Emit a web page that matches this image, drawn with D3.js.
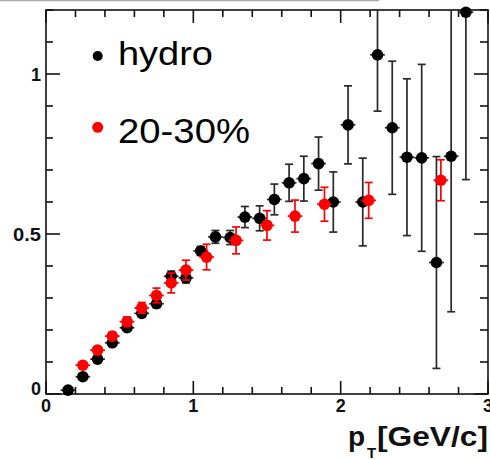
<!DOCTYPE html>
<html><head><meta charset="utf-8">
<script src="https://cdn.jsdelivr.net/npm/d3@7"></script>
<style>html,body{margin:0;padding:0;background:#fff;}svg{display:block;}</style>
</head><body>
<svg id="c" width="490" height="460"></svg>
<script>
// ---- data ----
const ptHydro = [0.15,0.25,0.35,0.45,0.55,0.65,0.75,0.85,0.95,1.05,1.15,1.25,1.35,1.45,1.55,1.65,1.75,1.85,1.95,2.05,2.15,2.25,2.35,2.45,2.55,2.65,2.75,2.85];
const vHydro  = [0.012,0.054,0.109,0.160,0.207,0.252,0.282,0.368,0.363,0.447,0.491,0.489,0.553,0.549,0.608,0.660,0.673,0.720,0.600,0.841,0.600,1.060,0.832,0.740,0.738,0.411,0.743,1.193];
const eHydro  = [0.005,0.005,0.007,0.008,0.010,0.010,0.012,0.016,0.016,0.014,0.020,0.022,0.033,0.039,0.048,0.058,0.070,0.083,0.094,0.122,0.137,0.176,0.208,0.245,0.292,0.331,0.486,0.523];
const ptCent  = [0.25,0.35,0.45,0.55,0.65,0.75,0.85,0.95,1.09,1.29,1.50,1.69,1.89,2.19,2.68];
const vCent   = [0.090,0.137,0.181,0.226,0.269,0.308,0.347,0.387,0.428,0.480,0.527,0.556,0.593,0.605,0.668];
const eCent   = [0.008,0.010,0.012,0.015,0.017,0.023,0.031,0.031,0.040,0.042,0.046,0.050,0.053,0.056,0.064];
const xErr = 0.05;
const seriesNames = ["hydro","20-30%"];
const xTickLabels = ["0","1","2","3"];
const yTickLabels = ["0","0.5","1"];
const xMajor = [0,1,2,3], yMajor = [0,0.5,1];

// ---- layout ----
const L=46, R=488, T=10, B=394;
const svg = d3.select("#c");
const x = d3.scaleLinear().domain([0,3]).range([L,R]);
const y = d3.scaleLinear().domain([0,1.2]).range([B,T]);
const font = "'Liberation Sans', Arial, Helvetica, sans-serif";

// top gray line artifact
svg.append("line").attr("x1",0).attr("x2",379).attr("y1",0.5).attr("y2",0.5).attr("stroke","#aaa").attr("stroke-width",1.5);

svg.append("defs").append("clipPath").attr("id","plot").append("rect")
  .attr("x",L).attr("y",T).attr("width",R-L).attr("height",B-T);

// frame
svg.append("rect").attr("x",L).attr("y",T).attr("width",R-L).attr("height",B-T)
  .attr("fill","none").attr("stroke","#111").attr("stroke-width",1.6);

// ticks
const xMinor = d3.range(0,3.0001,0.2).map(v=>+v.toFixed(2)).filter(v=>!xMajor.some(m=>Math.abs(m-v)<1e-6));
const yMinor = d3.range(0,1.2001,0.1).map(v=>+v.toFixed(2)).filter(v=>!yMajor.some(m=>Math.abs(m-v)<1e-6));
const tk = svg.append("g").attr("stroke","#111").attr("stroke-width",1.6);
xMajor.forEach(v=>{ tk.append("line").attr("x1",x(v)).attr("x2",x(v)).attr("y1",B).attr("y2",B-13);
                    tk.append("line").attr("x1",x(v)).attr("x2",x(v)).attr("y1",T).attr("y2",T+13); });
xMinor.forEach(v=>{ tk.append("line").attr("x1",x(v)).attr("x2",x(v)).attr("y1",B).attr("y2",B-7);
                    tk.append("line").attr("x1",x(v)).attr("x2",x(v)).attr("y1",T).attr("y2",T+7); });
yMajor.forEach(v=>{ tk.append("line").attr("y1",y(v)).attr("y2",y(v)).attr("x1",L).attr("x2",L+14);
                    tk.append("line").attr("y1",y(v)).attr("y2",y(v)).attr("x1",R).attr("x2",R-14); });
yMinor.forEach(v=>{ tk.append("line").attr("y1",y(v)).attr("y2",y(v)).attr("x1",L).attr("x2",L+7);
                    tk.append("line").attr("y1",y(v)).attr("y2",y(v)).attr("x1",R).attr("x2",R-8); });

// tick labels
xMajor.forEach((v,i)=>{
  svg.append("text").attr("x",x(v)).attr("y",412).attr("text-anchor","middle")
    .attr("font-family",font).attr("font-weight","bold").attr("font-size",18).attr("fill","#111").text(xTickLabels[i]);
});
yMajor.forEach((v,i)=>{
  const t = svg.append("text").attr("x",41).attr("y",y(v)+(v===0?1:6.5)).attr("text-anchor","end")
    .attr("font-family",font).attr("font-weight","bold").attr("font-size",18).attr("fill","#111").text(yTickLabels[i]);
  if (yTickLabels[i].length>1) t.attr("textLength",28).attr("lengthAdjust","spacingAndGlyphs");
});

// axis title
svg.append("text").attr("x",348).attr("y",446).attr("font-family",font).attr("font-weight","bold")
  .attr("font-size",28).attr("fill","#111").text("p");
svg.append("text").attr("x",367).attr("y",458).attr("font-family",font).attr("font-weight","bold")
  .attr("font-size",15).attr("fill","#111").text("T");
svg.append("text").attr("x",377).attr("y",446).attr("font-family",font).attr("font-weight","bold")
  .attr("font-size",27).attr("fill","#111").attr("textLength",111).attr("lengthAdjust","spacingAndGlyphs").text("[GeV/c]");

// series drawing
function drawSeries(px, py, pe, color, barColor){
  const data = px.map((v,i)=>({x:v, y:py[i], e:pe[i]}));
  const g = svg.append("g");
  const eg = g.append("g").attr("clip-path","url(#plot)").attr("stroke",barColor).attr("stroke-width",1.7);
  data.forEach(d=>{
    eg.append("line").attr("x1",x(d.x)).attr("x2",x(d.x)).attr("y1",y(d.y+d.e)).attr("y2",y(d.y-d.e));
    eg.append("line").attr("x1",x(d.x)-4).attr("x2",x(d.x)+4).attr("y1",y(d.y+d.e)).attr("y2",y(d.y+d.e));
    eg.append("line").attr("x1",x(d.x)-4).attr("x2",x(d.x)+4).attr("y1",y(d.y-d.e)).attr("y2",y(d.y-d.e));
    eg.append("line").attr("x1",x(d.x-xErr)).attr("x2",x(d.x+xErr)).attr("y1",y(d.y)).attr("y2",y(d.y));
  });
  g.selectAll("circle").data(data).join("circle")
    .attr("cx",d=>x(d.x)).attr("cy",d=>y(d.y)).attr("r",5.8).attr("fill",color);
}
drawSeries(ptHydro, vHydro, eHydro, "#000", "#2a2a2a");
drawSeries(ptCent, vCent, eCent, "#ff0000", "#ff0000");

// legend
svg.append("circle").attr("cx",97.7).attr("cy",56).attr("r",5).attr("fill","#000");
svg.append("circle").attr("cx",97.7).attr("cy",127.3).attr("r",5.5).attr("fill","#ff0000");
svg.append("text").attr("x",118).attr("y",65).attr("font-family",font).attr("font-size",34).attr("fill","#000")
  .attr("textLength",95).attr("lengthAdjust","spacingAndGlyphs").text(seriesNames[0]);
svg.append("text").attr("x",118).attr("y",143).attr("font-family",font).attr("font-size",35).attr("fill","#000")
  .attr("textLength",132).attr("lengthAdjust","spacingAndGlyphs").text(seriesNames[1]);
</script>
</body></html>
